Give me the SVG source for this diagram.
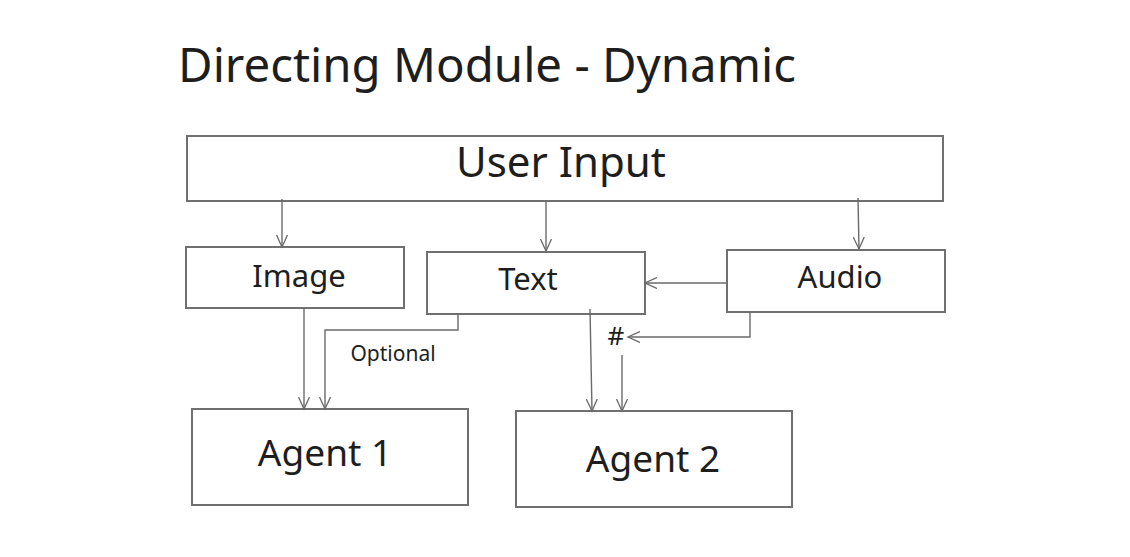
<svg xmlns="http://www.w3.org/2000/svg" width="1130" height="557" viewBox="0 0 1130 557">
<defs>
<marker id="ah" markerWidth="14" markerHeight="12" refX="12" refY="6" orient="auto" markerUnits="userSpaceOnUse">
<path d="M0,0.5 L12,6 L0,11.5" fill="none" stroke="#6a6a6a" stroke-width="1.3"/>
</marker>
</defs>
<style>
.box{fill:#fff;stroke:#707070;stroke-width:2}
.t{font-family:"Noto Sans","Open Sans",sans-serif;fill:#1e1e1e;text-anchor:middle}
.c{fill:none;stroke:#6a6a6a;stroke-width:1.4;marker-end:url(#ah)}
</style>
<rect width="1130" height="557" fill="#fff"/>
<text class="t" x="487" y="82" font-size="47.4">Directing Module - Dynamic</text>
<g id="user-input"><rect class="box" x="187" y="136" width="756" height="65"/><text class="t" x="561" y="177" font-size="42">User Input</text></g>
<g id="image"><rect class="box" x="186" y="247" width="218" height="61"/><text class="t" x="299" y="287" font-size="31">Image</text></g>
<g id="text"><rect class="box" x="427" y="252" width="218" height="62"/><text class="t" x="528" y="290" font-size="31">Text</text></g>
<g id="audio"><rect class="box" x="727" y="250" width="218" height="62"/><text class="t" x="840" y="288" font-size="31">Audio</text></g>
<g id="agent1"><rect class="box" x="192" y="409" width="276" height="96"/><text class="t" x="325" y="466" font-size="37">Agent 1</text></g>
<g id="agent2"><rect class="box" x="516" y="411" width="276" height="96"/><text class="t" x="653" y="472" font-size="37">Agent 2</text></g>
<g id="connectors">
<path class="c" d="M282,199 L282,247"/>
<path class="c" d="M546,201 L546,251"/>
<path class="c" d="M858,198 L859,249"/>
<path class="c" d="M727,283 L645,283"/>
<path class="c" d="M304,308 L304,409"/>
<path class="c" d="M458,314 L458,330 L325,330 L325,409"/>
<path class="c" d="M590,309 L592,411"/>
<path class="c" d="M750,312 L750,337 L628,337"/>
<path class="c" d="M622,355 L622,411"/>
<text class="t" x="393" y="361" font-size="21">Optional</text>
<text class="t" x="616" y="345" font-size="26">#</text>
</g>
</svg>
